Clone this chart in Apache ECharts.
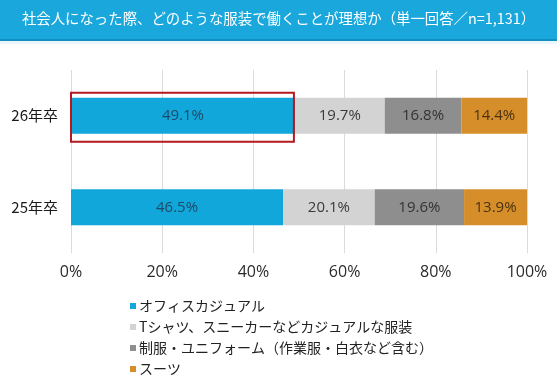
<!DOCTYPE html>
<html><head><meta charset="utf-8">
<script src="https://cdn.jsdelivr.net/npm/echarts@6/dist/echarts.min.js"></script>
<style>html,body{margin:0;padding:0;background:#fff}#c{width:557px;height:380px}</style>
</head><body><div id="c"></div>
<script>
const titleText = '社会人になった際、どのような服装で働くことが理想か（単一回答／n=1,131）';
const categories = ['25年卒', '26年卒'];
const seriesNames = ['オフィスカジュアル', 'Tシャツ、スニーカーなどカジュアルな服装', '制服・ユニフォーム（作業服・白衣など含む）', 'スーツ'];
const officeCasual = [46.5, 49.1];
const casualWear = [20.1, 19.7];
const uniform = [19.6, 16.8];
const suit = [13.9, 14.4];
const xTicks = [0, 20, 40, 60, 80, 100];
const highlightCategory = '26年卒';

const colors = ['#12A7DB', '#D3D3D3', '#8E8E8E', '#D68E2A'];
const labelColors = ['#1d4a66', '#3a3a3a', '#333333', '#4a3212'];
const dataSets = [officeCasual, casualWear, uniform, suit];
const FONT = '"Noto Sans CJK JP", "Noto Sans", sans-serif';
const NUMFONT = '"Open Sans", "Noto Sans", sans-serif';

const chart = echarts.init(document.getElementById('c'), null, {renderer: 'canvas'});
const option = {
  animation: false,
  color: colors,
  textStyle: {fontFamily: FONT},
  grid: {left: 71, right: 30, top: 70, bottom: 127, containLabel: false},
  xAxis: {
    type: 'value', min: xTicks[0], max: xTicks[xTicks.length - 1], interval: 20,
    axisLine: {show: false}, axisTick: {show: false},
    splitLine: {show: true, lineStyle: {color: '#dadada', width: 1}},
    axisLabel: {formatter: v => v + '%', color: '#2a2a2a', fontSize: 16, margin: 11, fontFamily: NUMFONT}
  },
  yAxis: {
    type: 'category', data: categories,
    axisLine: {show: false}, axisTick: {show: false},
    axisLabel: {color: '#1a1a1a', fontSize: 15, margin: 13, fontFamily: FONT}
  },
  legend: {
    orient: 'vertical', left: 125, top: 293, height: 120,
    itemWidth: 6, itemHeight: 6, itemGap: 5, icon: 'rect',
    textStyle: {fontSize: 14, color: '#222', lineHeight: 16, fontFamily: FONT, padding: [0, 0, 0, -2]},
    data: seriesNames
  },
  graphic: [
    {type: 'rect', shape: {x: 0, y: 0, width: 557, height: 40}, style: {fill: '#1AA8DC'}, z: 10},
    {type: 'rect', shape: {x: 0, y: 39, width: 557, height: 2}, style: {fill: '#118FC0'}, z: 10},
    {type: 'rect', shape: {x: 0, y: 41, width: 557, height: 3}, style: {fill: '#EAF6FB'}, z: 10},
    {type: 'text', left: 'center', top: 11, z: 11,
     style: {text: titleText, fill: '#ffffff', fontSize: 14.4, fontFamily: FONT}}
  ],
  series: dataSets.map((d, i) => ({
    name: seriesNames[i], type: 'bar', stack: 'total', data: d, barWidth: 36,
    itemStyle: {color: colors[i]},
    label: {show: true, position: 'inside', formatter: p => p.value.toFixed(1) + '%',
      color: labelColors[i], fontSize: 15, fontFamily: NUMFONT}
  }))
};
chart.setOption(option);

// highlight box around first segment of the highlighted category, from the axes' own scales
const idx = categories.indexOf(highlightCategory);
const p0 = chart.convertToPixel({gridIndex: 0}, [0, highlightCategory]);
const p1 = chart.convertToPixel({gridIndex: 0}, [officeCasual[idx], highlightCategory]);
chart.setOption({graphic: option.graphic.concat([
  {type: 'rect', z: 20, shape: {x: p0[0], y: p0[1] - 23, width: p1[0] - p0[0] - 1, height: 49},
   style: {fill: 'none', stroke: '#B3191E', lineWidth: 2}}
])});
</script></body></html>
